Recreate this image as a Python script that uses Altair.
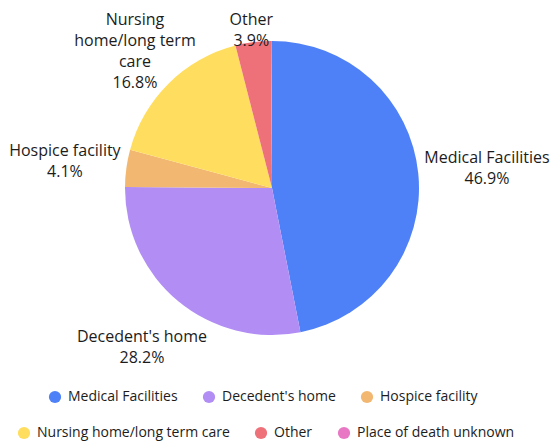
import altair as alt
import pandas as pd

categories = ["Medical Facilities", "Decedent's home", "Hospice facility",
              "Nursing home/long term care", "Other", "Place of death unknown"]
values = [46.9, 28.2, 4.1, 16.8, 3.9, 0.1]
label_texts = ["Medical Facilities\n46.9%", "Decedent's home\n28.2%", "Hospice facility\n4.1%",
               "Nursing\nhome/long term\ncare\n16.8%", "Other\n3.9%", ""]
colors = ["#4E80F7", "#B18DF4", "#F2B872", "#FFDD5E", "#EE717A", "#E878C4"]

# layout only: distance of each slice label from the pie centre (px)
label_radius = {"Medical Facilities": 216, "Decedent's home": 204, "Hospice facility": 209,
                "Nursing home/long term care": 195, "Other": 161, "Place of death unknown": 180}

LINE_H = 21

df = pd.DataFrame({
    "cat": categories,
    "value": values,
    "label": label_texts,
    "idx": list(range(len(categories))),
})
df["lr"] = df["cat"].map(label_radius)
df["nlines"] = [len(t.split("\n")) for t in label_texts]

FONT = "Open Sans"
TXT = "#1c1c1c"

base = alt.Chart(df)

pie = base.mark_arc(outerRadius=147).encode(
    theta=alt.Theta("value:Q", stack=True),
    color=alt.Color("cat:N", scale=alt.Scale(domain=categories, range=colors), legend=None),
    order=alt.Order("idx:Q"),
)

stacked = base.transform_stack(
    stack="value", groupby=[], as_=["v0", "v1"], sort=[alt.SortField("idx", order="ascending")]
).transform_calculate(
    mid="(datum.v0 + datum.v1) / 2"
)

def label_layer(n):
    return stacked.transform_filter(alt.datum.nlines == n).mark_text(
        lineBreak="\n", font=FONT, fontSize=16, lineHeight=LINE_H,
        align="center", baseline="middle", color=TXT, dy=-(n - 1) * LINE_H / 2 + 2,
    ).encode(
        theta=alt.Theta("mid:Q", stack=None),
        radius=alt.Radius("lr:Q", scale=None),
        text="label:N",
    )

labels2 = label_layer(2)
labels4 = label_layer(4)

def legend_layer(cats, cols, x, y):
    return base.transform_filter(
        alt.FieldOneOfPredicate(field="cat", oneOf=cats)
    ).mark_point(filled=True, size=0, opacity=0).encode(
        fill=alt.Fill("cat:N", scale=alt.Scale(domain=cats, range=cols),
                      legend=alt.Legend(orient="none", legendX=x, legendY=y,
                                        direction="horizontal", title=None,
                                        symbolType="circle", symbolSize=150,
                                        symbolOpacity=1, symbolStrokeWidth=0,
                                        labelFont=FONT, labelFontSize=14, labelColor=TXT,
                                        columnPadding=24, labelOffset=6, padding=0,
                                        labelLimit=400)),
    )

leg1 = legend_layer(categories[:3], colors[:3], 40, 382)
leg2 = legend_layer(categories[3:], colors[3:], 9, 418)

chart = alt.layer(pie, labels2, labels4, leg1, leg2).resolve_scale(
    color="independent", fill="independent"
).properties(
    width=528, height=360,
    autosize=alt.AutoSizeParams(type="none"),
    padding={"left": 0, "top": 0, "right": 14, "bottom": 77},
).configure_view(stroke=None)

chart.save("out.html", embed_options={"renderer": "svg", "actions": False})
